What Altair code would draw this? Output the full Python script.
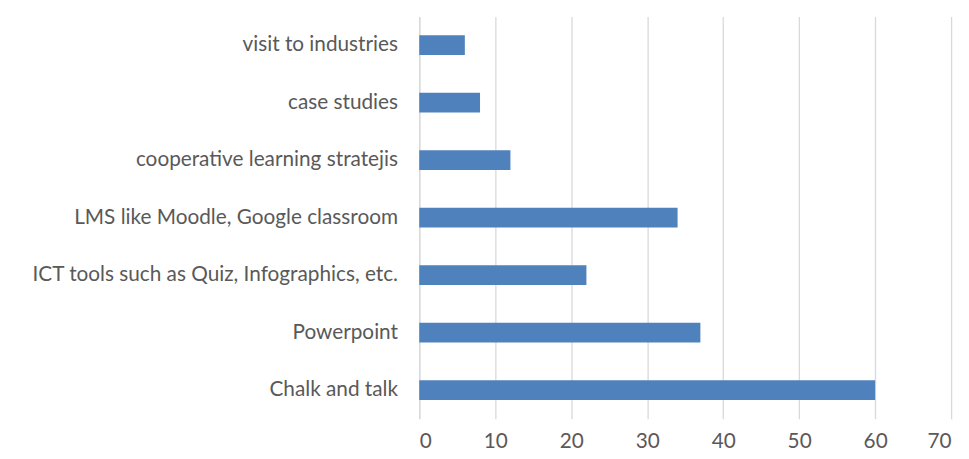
import altair as alt
import pandas as pd

categories = [
    "visit to industries",
    "case studies",
    "cooperative learning stratejis",
    "LMS like Moodle, Google classroom",
    "ICT tools such as Quiz, Infographics, etc.",
    "Powerpoint",
    "Chalk and talk",
]
values = [6, 8, 12, 34, 22, 37, 60]

df = pd.DataFrame({"method": categories, "count": values})

FONT = "Lato"
TEXT = "#595959"

chart = (
    alt.Chart(df)
    .mark_bar(color="#4F81BD", size=20)
    .encode(
        x=alt.X(
            "count:Q",
            scale=alt.Scale(domain=[0, 70], nice=False, zero=True),
            axis=alt.Axis(
                values=[0, 10, 20, 30, 40, 50, 60, 70],
                title=None,
                domain=False,
                ticks=False,
                grid=True,
                gridColor="#d9d9d9",
                gridWidth=1.3,
                labelFont=FONT,
                labelFontSize=21,
                labelColor=TEXT,
                labelPadding=12,
            ),
        ),
        y=alt.Y(
            "method:N",
            sort=categories,
            axis=alt.Axis(
                title=None,
                domain=True,
                domainColor="#d9d9d9",
                domainWidth=1.3,
                ticks=False,
                labelFont=FONT,
                labelFontSize=21,
                labelColor=TEXT,
                labelPadding=22,
                labelLimit=500,
            ),
        ),
    )
    .properties(
        width=538,
        height=407,
        autosize=alt.AutoSizeParams(type="none"),
        padding={"left": 416, "top": 6, "right": 10, "bottom": 30},
    )
    .configure_view(stroke=None)
)

chart.save("out.html", embed_options={"renderer": "svg", "actions": False})
